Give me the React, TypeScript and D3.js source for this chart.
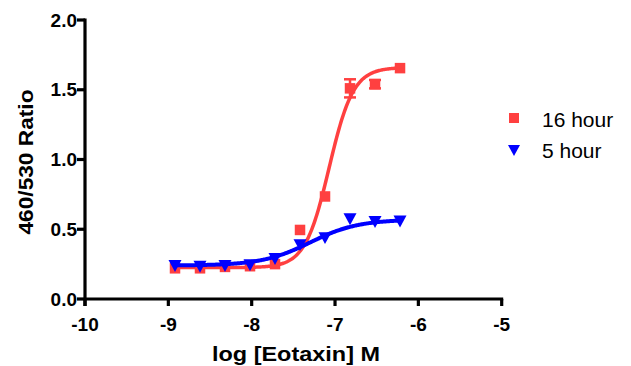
import React from "react";
import * as d3 from "d3";

const logConc = [-8.92, -8.62, -8.32, -8.02, -7.72, -7.42, -7.12, -6.82, -6.52, -6.22];
const hour16 = [0.22, 0.22, 0.23, 0.235, 0.25, 0.495, 0.735, 1.51, 1.54, 1.655];
const hour16Err = [0.01, 0.01, 0.01, 0.01, 0.01, 0.01, 0.01, 0.065, 0.03, 0.01];
const hour5 = [0.24, 0.235, 0.24, 0.245, 0.29, 0.39, 0.44, 0.575, 0.555, 0.56];
const fit16 = { bottom: 0.225, top: 1.66, logEC50: -7.07, hill: 3.0 };
const fit5 = { bottom: 0.24, top: 0.57, logEC50: -7.3, hill: 1.5 };
const xTicks = [-10, -9, -8, -7, -6, -5];
const yTicks = [0, 0.5, 1.0, 1.5, 2.0];
const seriesNames = ["16 hour", "5 hour"];

const RED = "#FF4040";
const BLUE = "#0000FF";

function curve(p: { bottom: number; top: number; logEC50: number; hill: number }, x: number) {
  return p.bottom + (p.top - p.bottom) / (1 + Math.pow(10, (p.logEC50 - x) * p.hill));
}

export default function App() {
  const W = 631, H = 366;
  const x = d3.scaleLinear().domain([-10, -5]).range([85, 501.7]);
  const y = d3.scaleLinear().domain([0, 2]).range([299, 20]);
  const xs = d3.range(-8.92, -6.22 + 0.001, 0.01);
  const path16 = d3.line<number>().x((d) => x(d)).y((d) => y(curve(fit16, d)))(xs) || "";
  const path5 = d3.line<number>().x((d) => x(d)).y((d) => y(curve(fit5, d)))(xs) || "";
  const sq = 10.5;
  const tri = (cx: number, cy: number, s = 13) =>
    `M${cx - s / 2},${cy - s * 0.42}L${cx + s / 2},${cy - s * 0.42}L${cx},${cy + s * 0.5}Z`;
  const font = "'Liberation Sans', Arial, Helvetica, sans-serif";
  return (
    <svg width={W} height={H} style={{ position: "absolute", left: 0, top: 0 }} fontFamily={font}>
      <rect width={W} height={H} fill="#fff" />
      <path d={path16} fill="none" stroke={RED} strokeWidth={3.5} />
      {logConc.map((c, i) => {
        const e = hour16Err[i];
        if (e < 0.02) return null;
        const cx = x(c);
        return (
          <g key={"e" + i} stroke={RED} strokeWidth={2.5}>
            <line x1={cx} x2={cx} y1={y(hour16[i] + e)} y2={y(hour16[i] - e)} />
            <line x1={cx - 6} x2={cx + 6} y1={y(hour16[i] + e)} y2={y(hour16[i] + e)} />
            <line x1={cx - 6} x2={cx + 6} y1={y(hour16[i] - e)} y2={y(hour16[i] - e)} />
          </g>
        );
      })}
      {logConc.map((c, i) => (
        <rect key={"r" + i} x={x(c) - sq / 2} y={y(hour16[i]) - sq / 2} width={sq} height={sq} fill={RED} />
      ))}
      <path d={path5} fill="none" stroke={BLUE} strokeWidth={4} />
      {logConc.map((c, i) => (
        <path key={"t" + i} d={tri(x(c), y(hour5[i]))} fill={BLUE} />
      ))}
      <line x1={x(-10)} x2={x(-5) + 1.5} y1={y(0)} y2={y(0)} stroke="#000" strokeWidth={3.2} />
      <line x1={x(-10)} x2={x(-10)} y1={y(0) + 7} y2={y(2) - 1.5} stroke="#000" strokeWidth={3.2} />
      {xTicks.map((t) => (
        <g key={"xt" + t}>
          <line x1={x(t)} x2={x(t)} y1={y(0)} y2={y(0) + 7} stroke="#000" strokeWidth={3.2} />
          <text x={x(t)} y={331} textAnchor="middle" fontSize={19} fontWeight="bold">
            {t}
          </text>
        </g>
      ))}
      {yTicks.map((t) => (
        <g key={"yt" + t}>
          <line x1={x(-10) - 8} x2={x(-10)} y1={y(t)} y2={y(t)} stroke="#000" strokeWidth={3.2} />
          <text x={x(-10) - 8} y={y(t) + 6.5} textAnchor="end" fontSize={19} fontWeight="bold">
            {t.toFixed(1)}
          </text>
        </g>
      ))}
      <text x={296} y={361} textAnchor="middle" fontSize={20} fontWeight="bold" textLength={168} lengthAdjust="spacingAndGlyphs">
        log [Eotaxin] M
      </text>
      <text
        transform={`translate(33,162) rotate(-90)`}
        textAnchor="middle"
        fontSize={20}
        fontWeight="bold"
        textLength={145}
        lengthAdjust="spacingAndGlyphs"
      >
        460/530 Ratio
      </text>
      <rect x={514 - 5} y={118 - 5} width={10} height={10} fill={RED} />
      <text x={542} y={126.5} fontSize={21}>
        {seriesNames[0]}
      </text>
      <path d={tri(514, 150, 12)} fill={BLUE} />
      <text x={542} y={158} fontSize={21}>
        {seriesNames[1]}
      </text>
    </svg>
  );
}
